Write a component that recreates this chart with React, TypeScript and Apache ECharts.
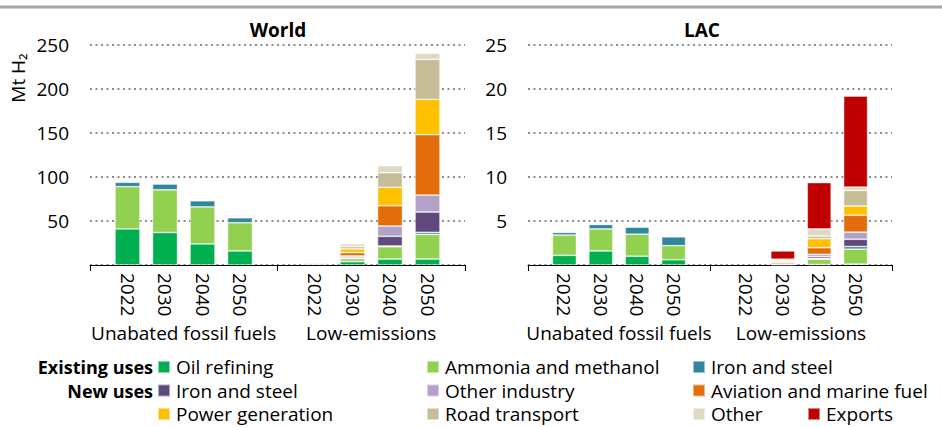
import React, { useEffect, useRef } from "react";
import * as echarts from "echarts";

// Category groups and years
const groups = ["Unabated fossil fuels", "Low-emissions"];
const years = ["2022", "2030", "2040", "2050"];
const yTicksWorld = [0, 50, 100, 150, 200, 250];
const yTicksLAC = [0, 5, 10, 15, 20, 25];

// Values in Mt H2, order: Unabated 2022, 2030, 2040, 2050, Low-emissions 2022, 2030, 2040, 2050
const worldOil = [41, 37, 24, 16, 0, 3.8, 6.8, 6.8];
const worldAmmonia = [48, 48.5, 42, 32, 0, 3.4, 14, 28];
const worldIronExisting = [5, 6.5, 7, 5.7, 0, 0.3, 0.8, 2.3];
const worldIronNew = [0, 0, 0, 0, 0, 1.3, 11, 23.1];
const worldOtherIndustry = [0, 0, 0, 0, 0, 1.5, 11.7, 19.3];
const worldAviation = [0, 0, 0, 0, 0, 3.8, 23.1, 68.6];
const worldPower = [0, 0, 0, 0, 0, 4.2, 20.9, 40.2];
const worldRoad = [0, 0, 0, 0, 0, 2.6, 16.6, 45.4];
const worldOther = [0, 0, 0, 0, 2, 3.1, 8, 6.8];
const worldExports = [0, 0, 0, 0, 0, 0, 0, 0];

const lacOil = [1.1, 1.6, 1.0, 0.6, 0, 0.03, 0.05, 0.1];
const lacAmmonia = [2.3, 2.5, 2.5, 1.6, 0, 0.07, 0.6, 1.7];
const lacIronExisting = [0.3, 0.5, 0.8, 1.0, 0, 0, 0.1, 0.3];
const lacIronNew = [0, 0, 0, 0, 0, 0, 0.2, 0.83];
const lacOtherIndustry = [0, 0, 0, 0, 0, 0.02, 0.26, 0.8];
const lacAviation = [0, 0, 0, 0, 0, 0.19, 0.76, 1.92];
const lacPower = [0, 0, 0, 0, 0, 0.05, 1.02, 1.06];
const lacRoad = [0, 0, 0, 0, 0, 0.11, 0.3, 1.77];
const lacOther = [0, 0, 0, 0, 0, 0.19, 0.8, 0.38];
const lacExports = [0, 0, 0, 0, 0, 0.94, 5.28, 10.33];

// Series identifiers, display names and colours
const seriesIds = [
  "Oil refining",
  "Ammonia and methanol",
  "Iron and steel (existing)",
  "Iron and steel (new)",
  "Other industry",
  "Aviation and marine fuel",
  "Power generation",
  "Road transport",
  "Other",
  "Exports",
];
const seriesLabels = [
  "Oil refining",
  "Ammonia and methanol",
  "Iron and steel",
  "Iron and steel",
  "Other industry",
  "Aviation and marine fuel",
  "Power generation",
  "Road transport",
  "Other",
  "Exports",
];
const seriesColors = ["#00B050", "#92D050", "#31859C", "#604A7B", "#B3A2C7", "#E46C0A", "#FFC000", "#C4BD97", "#DDD9C3", "#C00000"];

const worldData = [worldOil, worldAmmonia, worldIronExisting, worldIronNew, worldOtherIndustry, worldAviation, worldPower, worldRoad, worldOther, worldExports];
const lacData = [lacOil, lacAmmonia, lacIronExisting, lacIronNew, lacOtherIndustry, lacAviation, lacPower, lacRoad, lacOther, lacExports];

const FONT = "'Open Sans', 'Noto Sans', sans-serif";

// slot layout: padding, 4 years, separator, 4 years, padding
const slotLabels = ["", ...years, "", ...years, ""];
const toSlots = (arr: number[]) =>
  [null, ...arr.slice(0, 4), null, ...arr.slice(4), null].map((v) => (v === 0 ? null : v));

export default function App() {
  const ref = useRef<HTMLDivElement>(null);
  useEffect(() => {
    document.body.style.margin = "0";
    if (!ref.current) return;
    const chart = echarts.init(ref.current, undefined, { renderer: "svg" });

    const mainX = (gridIndex: number) => ({
      type: "category",
      gridIndex,
      data: slotLabels,
      boundaryGap: false,
      axisLine: { show: true, lineStyle: { color: "#000", width: 1 } },
      axisTick: { show: true, interval: (i: number) => i % 5 === 0, length: 6, lineStyle: { color: "#000" } },
      axisLabel: {
        interval: 0,
        rotate: -90,
        margin: 8,
        fontSize: 19,
        fontFamily: FONT,
        color: "#000",
        formatter: (_v: string, i: number) => slotLabels[i],
      },
      splitLine: { show: false },
    });
    const groupX = (gridIndex: number) => ({
      type: "category",
      gridIndex,
      data: groups,
      position: "bottom",
      offset: 50,
      axisLine: { show: false },
      axisTick: { show: false },
      axisLabel: { interval: 0, margin: 8, fontSize: 19, lineHeight: 19, fontFamily: FONT, color: "#000" },
      splitLine: { show: false },
    });
    const yAx = (gridIndex: number, ticks: number[]) => ({
      type: "value",
      gridIndex,
      min: ticks[0],
      max: ticks[ticks.length - 1],
      interval: ticks[1] - ticks[0],
      axisLine: { show: false },
      axisTick: { show: false },
      axisLabel: { showMinLabel: false, margin: 21, fontSize: 19, fontFamily: FONT, color: "#000" },
      splitLine: { show: true, lineStyle: { color: "#8c8c8c", width: 2, type: [2, 3.5] } },
    });

    const series: any[] = [];
    const addSeries = (data: number[][], xi: number, yi: number, stack: string, bw: number) => {
      data.forEach((arr, k) => {
        series.push({
          type: "bar",
          name: seriesIds[k],
          xAxisIndex: xi,
          yAxisIndex: yi,
          stack,
          barWidth: bw,
          data: toSlots(arr),
          itemStyle: { color: seriesColors[k], borderColor: "rgba(255,255,255,0.5)", borderWidth: 0.8 },
        });
      });
    };
    addSeries(worldData, 0, 0, "world", 25);
    addSeries(lacData, 2, 1, "lac", 24);

    const legendCols = [
      { left: 157, items: [0, 3, 6] },
      { left: 426, items: [1, 4, 7] },
      { left: 692, items: [2, 5, 8] },
      { left: 807, items: [9], top: 404 },
    ];
    const legend = legendCols.map((c) => ({
      orient: "vertical",
      left: c.left,
      top: c.top ?? 357,
      padding: 0,
      itemGap: 3.5,
      itemWidth: 12,
      itemHeight: 12,
      icon: "rect",
      selectedMode: false,
      data: c.items.map((i) => seriesIds[i]),
      formatter: (name: string) => seriesLabels[seriesIds.indexOf(name)],
      textStyle: { fontSize: 19, lineHeight: 20, fontFamily: FONT, color: "#000", padding: [0, 0, 0, 1] },
    }));

    const txt = (text: string, x: number, y: number, opts: any = {}) => ({
      type: "text",
      x,
      y,
      rotation: opts.rotation ?? 0,
      style: {
        text,
        fill: "#000",
        fontSize: opts.fontSize ?? 19,
        fontWeight: opts.bold ? "bold" : "normal",
        fontFamily: FONT,
        textAlign: opts.align ?? "center",
        textVerticalAlign: "middle",
      },
    });

    chart.setOption({
      animation: false,
      grid: [
        { left: 90, right: 942 - 465, top: 45, bottom: 427 - 265 },
        { left: 528, right: 942 - 892, top: 45, bottom: 427 - 265 },
      ],
      xAxis: [mainX(0), groupX(0), mainX(1), groupX(1)],
      yAxis: [yAx(0, yTicksWorld), yAx(1, yTicksLAC)],
      legend,
      series,
      graphic: [
        { type: "line", shape: { x1: 0, y1: 7, x2: 942, y2: 7 }, style: { stroke: "#a6a6a6", lineWidth: 3 } },
        txt("World", 278, 30, { bold: true }),
        txt("LAC", 702, 30, { bold: true }),
        txt("Mt H₂", 18, 78, { rotation: Math.PI / 2 }),
        txt("Existing uses", 153, 367, { bold: true, align: "right", fontSize: 18 }),
        txt("New uses", 153, 390.5, { bold: true, align: "right", fontSize: 18 }),
      ],
    });
    return () => chart.dispose();
  }, []);
  return <div ref={ref} style={{ width: 942, height: 427 }} />;
}
